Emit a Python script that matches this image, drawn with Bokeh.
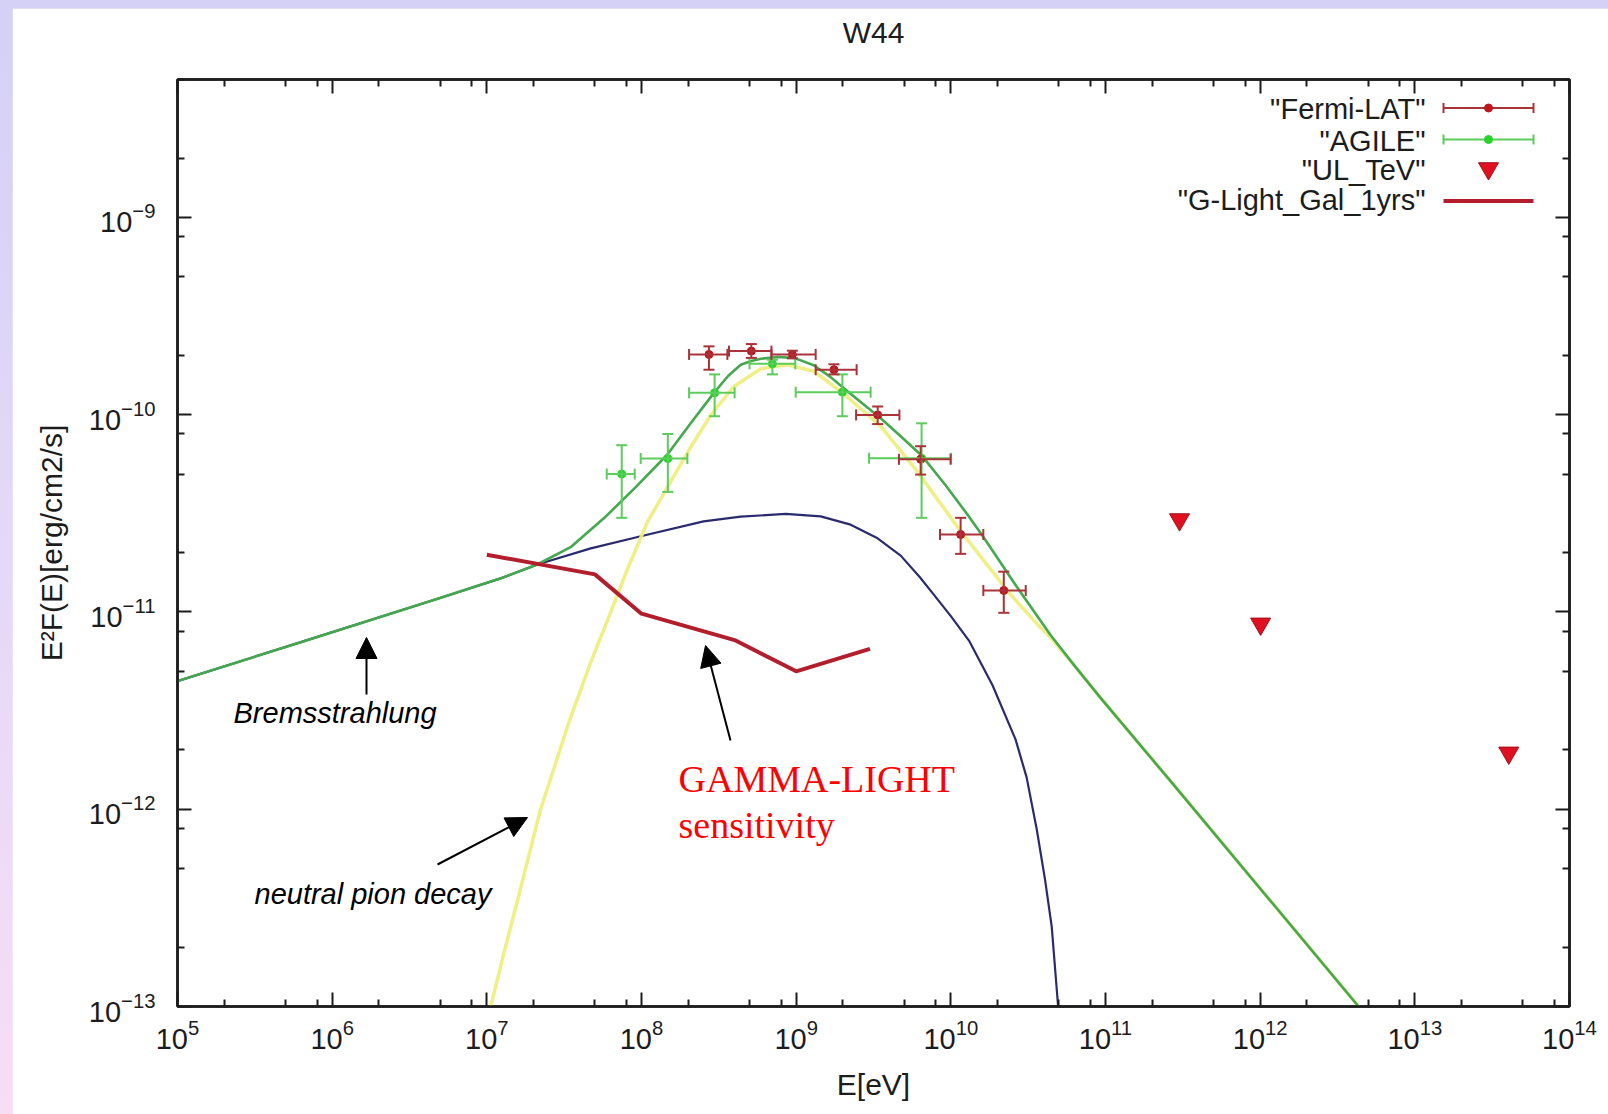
import math

from bokeh.embed import file_html
from bokeh.models import (Arrow, ColumnDataSource, CustomJSTickFormatter, FixedTicker,
                          Label, LogAxis, NormalHead, TeeHead, Whisker)
from bokeh.plotting import figure
from bokeh.resources import INLINE

# ---------------------------------------------------------------- data
# Fermi-LAT spectral points: energy [eV], bin edges, E^2 F(E) [erg/cm2/s] and errors
fermi_e = [2.73e8, 5.13e8, 9.45e8, 1.755e9, 3.365e9, 6.38e9, 1.157e10, 2.20e10]
fermi_e_lo = [2.03e8, 3.68e8, 6.92e8, 1.337e9, 2.44e9, 4.62e9, 8.51e9, 1.622e10]
fermi_e_hi = [3.59e8, 6.92e8, 1.337e9, 2.46e9, 4.65e9, 9.97e9, 1.622e10, 3.05e10]
fermi_f = [2.02e-10, 2.10e-10, 2.02e-10, 1.69e-10, 9.97e-11, 5.94e-11, 2.47e-11, 1.285e-11]
fermi_f_lo = [1.69e-10, 1.94e-10, 1.93e-10, 1.60e-10, 8.96e-11, 4.97e-11, 1.97e-11, 9.9e-12]
fermi_f_hi = [2.22e-10, 2.28e-10, 2.11e-10, 1.80e-10, 1.10e-10, 6.92e-11, 3.0e-11, 1.60e-11]

# AGILE spectral points
agile_e = [7.45e7, 1.48e8, 2.97e8, 7.02e8, 1.99e9, 6.47e9]
agile_e_lo = [5.96e7, 9.88e7, 2.03e8, 4.99e8, 9.93e8, 2.96e9]
agile_e_hi = [9.04e7, 1.98e8, 4.0e8, 9.87e8, 3.03e9, 1.0e10]
agile_f = [5.0e-11, 5.99e-11, 1.29e-10, 1.81e-10, 1.30e-10, 6.01e-11]
agile_f_lo = [3.0e-11, 4.06e-11, 9.82e-11, 1.60e-10, 9.82e-11, 3.0e-11]
agile_f_hi = [7.0e-11, 7.98e-11, 1.60e-10, 1.90e-10, 1.60e-10, 9.04e-11]

# TeV upper limits
ul_e = [3.01e11, 1.007e12, 4.05e13]
ul_f = [2.94e-11, 8.7e-12, 1.93e-12]

# GAMMA-LIGHT 1-year Galactic sensitivity
glight_e = [1.0e7, 5.0e7, 1.0e8, 4.0e8, 1.0e9, 3.0e9]
glight_f = [1.95e-11, 1.55e-11, 9.8e-12, 7.2e-12, 5.0e-12, 6.5e-12]

# model: total emission
total_e = [1.00e5, 6.27e5, 5.04e6, 1.23e7, 2.12e7, 3.48e7, 5.73e7, 9.18e7, 1.47e8,
           2.08e8, 2.94e8, 3.63e8, 4.38e8, 5.13e8, 5.90e8, 7.59e8, 9.68e8, 1.30e9,
           1.67e9, 1.99e9, 2.61e9, 3.52e9, 4.74e9, 6.55e9, 9.25e9, 1.28e10, 1.64e10,
           2.62e10, 4.42e10, 6.41e10, 9.29e10, 2.57e11, 4.33e12]
total_f = [4.46e-12, 7.03e-12, 1.18e-11, 1.48e-11, 1.74e-11, 2.13e-11, 2.99e-11, 4.29e-11,
           6.28e-11, 9.04e-11, 1.29e-10, 1.57e-10, 1.79e-10, 1.87e-10, 1.92e-10, 1.96e-10,
           1.94e-10, 1.78e-10, 1.55e-10, 1.38e-10, 1.16e-10, 9.59e-11, 7.78e-11, 6.15e-11,
           4.39e-11, 3.12e-11, 2.37e-11, 1.37e-11, 7.62e-12, 5.25e-12, 3.67e-12, 1.42e-12,
           1.0e-13]

# model: neutral pion decay
pion_e = [1.06e7, 1.29e7, 1.60e7, 2.21e7, 3.40e7, 4.70e7, 6.07e7, 7.91e7, 1.09e8, 1.55e8,
          2.08e8, 2.80e8, 3.96e8, 5.90e8, 8.77e8, 1.30e9, 2.04e9, 3.52e9, 5.93e9, 1.16e10,
          2.44e10, 3.62e10, 4.42e10, 6.41e10, 9.29e10, 2.57e11, 4.33e12]
pion_f = [1.0e-13, 1.87e-13, 3.59e-13, 9.79e-13, 2.77e-12, 5.57e-12, 9.20e-12, 1.57e-11,
          2.85e-11, 4.60e-11, 6.84e-11, 9.93e-11, 1.39e-10, 1.71e-10, 1.79e-10, 1.66e-10,
          1.27e-10, 8.73e-11, 5.28e-11, 2.56e-11, 1.22e-11, 8.67e-12, 7.41e-12, 5.25e-12,
          3.67e-12, 1.42e-12, 1.0e-13]

# model: bremsstrahlung
brems_e = [1.00e5, 6.27e5, 5.04e6, 1.23e7, 2.12e7, 4.70e7, 9.89e7, 2.52e8, 4.38e8, 8.55e8,
           1.44e9, 2.25e9, 3.31e9, 4.74e9, 6.31e9, 7.78e9, 1.0e10, 1.31e10, 1.86e10,
           2.62e10, 3.09e10, 3.59e10, 4.07e10, 4.49e10, 4.94e10]
brems_f = [4.46e-12, 7.03e-12, 1.18e-11, 1.48e-11, 1.74e-11, 2.10e-11, 2.42e-11, 2.88e-11,
           3.04e-11, 3.14e-11, 3.05e-11, 2.77e-11, 2.38e-11, 1.93e-11, 1.50e-11, 1.22e-11,
           9.53e-12, 7.16e-12, 4.25e-12, 2.26e-12, 1.45e-12, 7.94e-13, 4.37e-13, 2.54e-13,
           1.0e-13]

# axis ticks
x_major = [10.0 ** k for k in range(5, 15)]
x_minor = [m * 10.0 ** k for k in range(5, 14) for m in (2, 5, 8)]
y_major = [10.0 ** k for k in range(-13, -8)]
y_minor = [m * 10.0 ** k for k in range(-13, -8) for m in (2, 5, 8)]

# ---------------------------------------------------------------- layout
FIG_W, FIG_H = 1596, 1106
PAGE_X0, PAGE_Y0 = 12, 8
BORDER_L, BORDER_R, BORDER_T, BORDER_B = 165, 39, 71, 108
X_MIN, X_MAX = 1e5, 1e14
Y_MIN, Y_MAX = 1e-13, 5e-9
FRAME_W = FIG_W - BORDER_L - BORDER_R
FRAME_H = FIG_H - BORDER_T - BORDER_B

SANS = "Liberation Sans"
SERIF = "Liberation Serif"
INK = "#1c1c1c"

FERMI_BAR, FERMI_DOT = "#a8343a", "#c0141e"
AGILE_BAR, AGILE_DOT = "#5ccc5c", "#26d426"
UL_COLOR = "#e01020"
GLIGHT_COLOR = "#b21e2c"
TOTAL_COLOR = "#45a84f"
PION_COLOR = "#eeee80"
BREMS_COLOR = "#2a2a6e"


def page_xy(px, py):
    """Convert a page pixel position into data coordinates of the log-log frame."""
    lx0, lx1 = math.log10(X_MIN), math.log10(X_MAX)
    ly0, ly1 = math.log10(Y_MIN), math.log10(Y_MAX)
    fx = (px - PAGE_X0 - BORDER_L) / FRAME_W
    fy = (py - PAGE_Y0 - BORDER_T) / FRAME_H
    return 10 ** (lx0 + fx * (lx1 - lx0)), 10 ** (ly1 - fy * (ly1 - ly0))


p = figure(width=FIG_W, height=FIG_H, x_axis_type="log", y_axis_type="log",
           x_range=(X_MIN, X_MAX), y_range=(Y_MIN, Y_MAX),
           output_backend="svg", toolbar_location=None,
           min_border_left=BORDER_L, min_border_right=BORDER_R,
           min_border_top=BORDER_T, min_border_bottom=BORDER_B,
           background_fill_color="white", border_fill_color="white")
p.grid.visible = False
p.outline_line_color = INK
p.outline_line_width = 2.5
p.title.visible = False


def style_axis(ax, major, minor, label_size="29px"):
    ax.ticker = FixedTicker(ticks=major, minor_ticks=minor)
    ax.axis_line_color = INK
    ax.axis_line_width = 2.5
    ax.major_tick_line_color = INK
    ax.minor_tick_line_color = INK
    ax.major_tick_line_width = 2
    ax.minor_tick_line_width = 2
    ax.major_tick_in = 14
    ax.major_tick_out = 0
    ax.minor_tick_in = 7
    ax.minor_tick_out = 0
    ax.major_label_text_font = SANS
    ax.major_label_text_font_size = label_size
    ax.major_label_text_color = INK
    ax.axis_label_text_font = SANS
    ax.axis_label_text_font_size = "30px"
    ax.axis_label_text_font_style = "normal"
    ax.axis_label_text_color = INK


xa = p.xaxis[0]
style_axis(xa, x_major, x_minor)
xa.axis_label = "E[eV]"
xa.major_label_standoff = 12
xa.axis_label_standoff = 16

ya = p.yaxis[0]
style_axis(ya, y_major, y_minor)
ya.axis_label = "E²F(E)[erg/cm2/s]"
ya.major_label_standoff = 22
ya.axis_label_standoff = 18

# mirrored tick marks on the top border; its label carries the plot title
top_ax = LogAxis(formatter=CustomJSTickFormatter(code="return ''"))
style_axis(top_ax, x_major, x_minor, label_size="8px")
top_ax.major_label_standoff = 0
top_ax.axis_label = "W44"
top_ax.axis_label_standoff = 31
p.add_layout(top_ax, "above")

right_ax = LogAxis(formatter=CustomJSTickFormatter(code="return ''"))
style_axis(right_ax, y_major, y_minor, label_size="8px")
right_ax.major_label_standoff = 0
p.add_layout(right_ax, "right")

# ---------------------------------------------------------------- model curves
p.line(brems_e, brems_f, line_color=BREMS_COLOR, line_width=2.2, line_join="round")
p.line(pion_e, pion_f, line_color=PION_COLOR, line_width=3.5, line_alpha=0.95,
       line_join="round")
p.line(total_e, total_f, line_color=TOTAL_COLOR, line_width=2.6, line_join="round")

# sensitivity curve
p.line(glight_e, glight_f, line_color=GLIGHT_COLOR, line_width=4, line_join="round")

# ---------------------------------------------------------------- data points
fermi_src = ColumnDataSource(dict(e=fermi_e, elo=fermi_e_lo, ehi=fermi_e_hi,
                                  f=fermi_f, flo=fermi_f_lo, fhi=fermi_f_hi))
agile_src = ColumnDataSource(dict(e=agile_e, elo=agile_e_lo, ehi=agile_e_hi,
                                  f=agile_f, flo=agile_f_lo, fhi=agile_f_hi))


def error_bars(src, color):
    for dim, base, lo, hi in (("height", "e", "flo", "fhi"), ("width", "f", "elo", "ehi")):
        p.add_layout(Whisker(source=src, base=base, lower=lo, upper=hi, dimension=dim,
                             line_color=color, line_width=2, level="glyph",
                             lower_head=TeeHead(size=11, line_color=color, line_width=2),
                             upper_head=TeeHead(size=11, line_color=color, line_width=2)))


error_bars(agile_src, AGILE_BAR)
p.scatter("e", "f", source=agile_src, size=8, fill_color=AGILE_DOT, line_color=AGILE_DOT)
error_bars(fermi_src, FERMI_BAR)
p.scatter("e", "f", source=fermi_src, size=8, fill_color=FERMI_DOT, line_color=FERMI_DOT)

p.scatter(ul_e, ul_f, marker="inverted_triangle", size=20,
          fill_color=UL_COLOR, line_color="#a01018", line_width=1)

# ---------------------------------------------------------------- key (top right)
# (label, text anchor y, sample y) in page pixels
KEY_TEXT_RIGHT = 1425
KEY_X0, KEY_X1, KEY_MID = 1443, 1533, 1488
key_rows = [('"Fermi-LAT"', 108.7, 107.5), ('"AGILE"', 140.0, 139.0),
            ('"UL_TeV"', 169.5, 168.0), ('"G-Light_Gal_1yrs"', 199.0, 200.5)]
for text, base_y, _ in key_rows:
    kx, ky = page_xy(KEY_TEXT_RIGHT, base_y)
    p.add_layout(Label(x=kx, y=ky, text=text, text_align="right", text_baseline="alphabetic",
                       text_font=SANS, text_font_size="29px", text_color=INK))

for (_, _, row_y), bar, dot in zip(key_rows[:2], (FERMI_BAR, AGILE_BAR), (FERMI_DOT, AGILE_DOT)):
    xa0, ya0 = page_xy(KEY_X0, row_y)
    xa1, _ = page_xy(KEY_X1, row_y)
    xm, _ = page_xy(KEY_MID, row_y)
    _, yc0 = page_xy(KEY_X0, row_y - 5)
    _, yc1 = page_xy(KEY_X0, row_y + 5)
    p.segment(x0=[xa0, xa0, xa1], y0=[ya0, yc0, yc0], x1=[xa1, xa0, xa1], y1=[ya0, yc1, yc1],
              line_color=bar, line_width=2)
    p.scatter([xm], [ya0], size=8, fill_color=dot, line_color=dot)

ux, uy = page_xy(KEY_MID, key_rows[2][2])
p.scatter([ux], [uy], marker="inverted_triangle", size=20,
          fill_color=UL_COLOR, line_color="#a01018", line_width=1)

gx0, gy = page_xy(KEY_X0, key_rows[3][2])
gx1, _ = page_xy(KEY_X1, key_rows[3][2])
p.segment(x0=[gx0], y0=[gy], x1=[gx1], y1=[gy], line_color=GLIGHT_COLOR, line_width=4)


# ---------------------------------------------------------------- annotations
def note(text, px, py, font, size, color, style="normal"):
    x, y = page_xy(px, py)
    p.add_layout(Label(x=x, y=y, text=text, text_font=font, text_font_size=size,
                       text_font_style=style, text_color=color, text_baseline="alphabetic"))


def pointer(tail, tip):
    x0, y0 = page_xy(*tail)
    x1, y1 = page_xy(*tip)
    p.add_layout(Arrow(x_start=x0, y_start=y0, x_end=x1, y_end=y1,
                       line_color="black", line_width=2,
                       end=NormalHead(size=21, fill_color="black", line_color="black",
                                      line_width=1)))


note("Bremsstrahlung", 233, 712, SANS, "29px", "black", "italic")
note("neutral pion decay", 254, 893, SANS, "29px", "black", "italic")
note("GAMMA-LIGHT", 678, 778, SERIF, "38px", "#ff0000")
note("sensitivity", 678, 824, SERIF, "38px", "#ff0000")

pointer((366, 694), (366, 637))
pointer((437, 864), (527, 817))
pointer((730, 740), (705, 645))

html = file_html(p, INLINE, title="W44")
page_css = (
    "<style>html,body{margin:0;overflow:hidden;}"
    "body{padding:%dpx 0 0 %dpx;box-sizing:border-box;height:1114px;"
    "background:linear-gradient(180deg,#d4d0f6 0%%,#e3d8f7 45%%,#f6def4 100%%);}</style>"
    % (PAGE_Y0, PAGE_X0))
html = html.replace("</head>", page_css + "</head>", 1)
open("out.html", "w").write(html)
